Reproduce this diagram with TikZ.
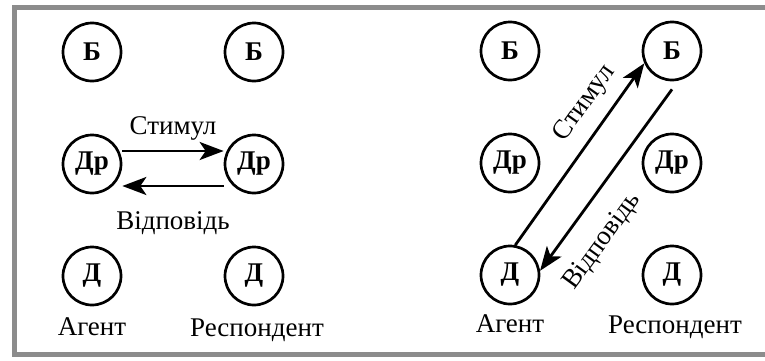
\documentclass[tikz,border=0pt]{standalone}
\usepackage{fontspec}
\setmainfont{Liberation Serif}
\usetikzlibrary{arrows.meta}
\tikzstyle{level} = [circle,
	draw=black,
	line width=2.7pt,
	minimum size=58pt,
	inner sep=0pt,
	font=\fontsize{27}{31}\selectfont\bfseries
	]
\tikzstyle{caption} = [inner sep=0pt,
	text height=18pt,
	text depth=0pt,
	font=\fontsize{27}{31}\selectfont
	]
\tikzstyle{arrow} = [line width=2.8pt, -{Stealth[length=24pt, width=18pt, inset=6pt]}]
\tikzstyle{frame} = [line width=5pt, draw=black!45]

\begin{document}
\begin{tikzpicture}[x=1pt, y=1pt, node distance=112pt]
\useasboundingbox (0,0) rectangle (765,360);
\draw [frame] (775,352.5) -| (14,5.5) -- (775,5.5);

% left: direct contact between the two Dr levels
\node (lBa) [level] at (92,308) {Б};
\node (lDRa) [level, below of=lBa] {Др};
\node (lDa) [level, below of=lDRa] {Д};
\node (lBr) [level, right of=lBa, node distance=162pt] {Б};
\node (lDRr) [level, right of=lDRa, node distance=162pt] {Др};
\node (lDr) [level, right of=lDa, node distance=162pt] {Д};

\node (lAg) [caption, below of=lDa, node distance=50pt] {Агент};
\node (lResp) [caption, below of=lDr, node distance=51pt, xshift=3pt] {Респондент};

\draw [arrow] ([yshift=13pt]lDRa.east) -- node[caption, above=15pt] {Стимул} ([yshift=13pt]lDRr.west);
\draw [arrow] ([yshift=-22pt]lDRr.west) -- node[caption, below=24pt] {Відповідь} ([yshift=-22pt]lDRa.east);

% right: contact from D up to B
\node (rBa) [level] at (510,309) {Б};
\node (rDRa) [level, below of=rBa] {Др};
\node (rDa) [level, below of=rDRa] {Д};
\node (rBr) [level, right of=rBa, node distance=162pt] {Б};
\node (rDRr) [level, right of=rDRa, node distance=162pt] {Др};
\node (rDr) [level, right of=rDa, node distance=162pt] {Д};

\node (rAg) [caption, below of=rDa, node distance=48pt] {Агент};
\node (rResp) [caption, below of=rDr, node distance=49pt, xshift=3pt] {Респондент};

\draw [arrow] (rDa.80) -- node[caption, sloped, above=18pt, pos=0.7] {Стимул} (rBr.204);
\draw [arrow] ([yshift=-8pt]rBr.south) -- node[caption, sloped, below=20pt, pos=0.73] {Відповідь} (rDa.8);

\end{tikzpicture}
\end{document}
